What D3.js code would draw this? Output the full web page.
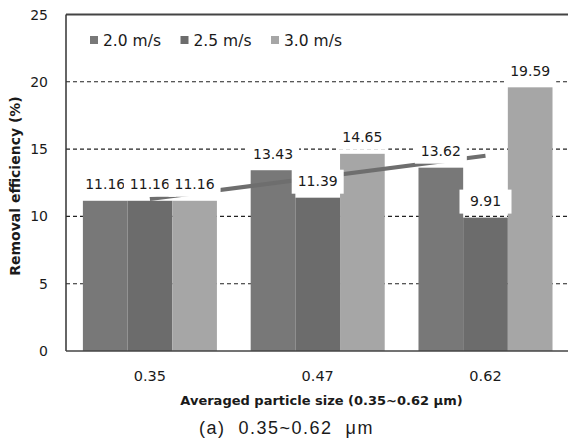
<!DOCTYPE html>
<html lang="en">
<head>
<meta charset="UTF-8">
<script src="https://d3js.org/d3.v7.min.js"></script>
<style>
    body { margin: 0; background: #fff; }
    text { font-family: "DejaVu Sans", sans-serif; fill: #1a1a1a; }
</style>
</head>
<body>
<div id="chart"></div>
<script>
    // data
    const sizes = ['0.35', '0.47', '0.62']
    const speeds = ['2.0 m/s', '2.5 m/s', '3.0 m/s']
    const eff20 = [11.16, 13.43, 13.62]
    const eff25 = [11.16, 11.39, 9.91]
    const eff30 = [11.16, 14.65, 19.59]
    const yTicks = [0, 5, 10, 15, 20, 25]
    const colors = ['#787878', '#6c6c6c', '#a6a6a6']

    const W = 568, H = 447
    const pLeft = 66, pRight = 569.4, pTop = 14.5, pBottom = 351

    const svg = d3.select('#chart').append('svg')
        .attr('width', W).attr('height', H)

    const x0 = d3.scaleBand().domain(sizes).range([pLeft, pRight]).padding(0)
    const x1 = d3.scaleBand().domain(speeds).range([0, x0.bandwidth()])
        .paddingInner(0).paddingOuter(0.378)
    const y = d3.scaleLinear().domain([0, 25]).range([pBottom, pTop])

    const series = [eff20, eff25, eff30]
    const rows = []
    sizes.forEach((s, i) => {
        speeds.forEach((sp, j) => rows.push({size: s, speed: sp, j: j, v: series[j][i]}))
    })

    // dashed gridlines
    svg.append('g').selectAll('line')
        .data(yTicks.filter(t => t > 0 && t < 25))
        .enter().append('line')
        .attr('x1', pLeft).attr('x2', W)
        .attr('y1', d => y(d)).attr('y2', d => y(d))
        .attr('stroke', '#222').attr('stroke-width', 1.1)
        .attr('stroke-dasharray', '4,3')

    // bars
    svg.append('g').selectAll('rect')
        .data(rows)
        .enter().append('rect')
        .attr('x', d => x0(d.size) + x1(d.speed))
        .attr('y', d => y(d.v))
        .attr('width', x1.bandwidth())
        .attr('height', d => y(0) - y(d.v))
        .attr('fill', d => colors[d.j])

    // linear trend of the category means
    const means = sizes.map((s, i) => d3.mean(series, ser => ser[i]))
    const xs = [1, 2, 3]
    const mx = d3.mean(xs), my = d3.mean(means)
    const slope = d3.sum(xs, (v, i) => (v - mx) * (means[i] - my)) / d3.sum(xs, v => (v - mx) * (v - mx))
    const icpt = my - slope * mx
    const cx = s => x0(s) + x0.bandwidth() / 2
    svg.append('line')
        .attr('x1', cx(sizes[0])).attr('y1', y(icpt + slope * 1))
        .attr('x2', cx(sizes[2])).attr('y2', y(icpt + slope * 3))
        .attr('stroke', '#6e6e6e').attr('stroke-width', 4)

    // axis lines
    svg.append('line').attr('x1', pLeft).attr('x2', W).attr('y1', pTop).attr('y2', pTop)
        .attr('stroke', '#444').attr('stroke-width', 2.2)
    svg.append('line').attr('x1', pLeft).attr('x2', pLeft).attr('y1', pTop).attr('y2', pBottom)
        .attr('stroke', '#333').attr('stroke-width', 1.5)
    svg.append('line').attr('x1', pLeft).attr('x2', W).attr('y1', pBottom).attr('y2', pBottom)
        .attr('stroke', '#444').attr('stroke-width', 1.5)

    // y tick labels
    svg.append('g').selectAll('text')
        .data(yTicks).enter().append('text')
        .attr('x', 48).attr('y', d => y(d) + 5)
        .attr('text-anchor', 'end')
        .style('font-size', '14px')
        .text(d => d)

    // x tick labels
    svg.append('g').selectAll('text')
        .data(sizes).enter().append('text')
        .attr('x', d => cx(d)).attr('y', 381)
        .attr('text-anchor', 'middle')
        .style('font-size', '14.5px')
        .text(d => d)

    // data labels with white boxes
    const lab = svg.append('g').selectAll('g')
        .data(rows).enter().append('g')
        .attr('transform', d => 'translate(' + (x0(d.size) + x1(d.speed) + x1.bandwidth() / 2) + ',' + y(d.v) + ')')
    lab.append('rect')
        .attr('x', -26).attr('y', -28).attr('width', 52).attr('height', 24)
        .attr('fill', '#fff')
    lab.append('text')
        .attr('y', -11.5).attr('text-anchor', 'middle')
        .style('font-size', '14px')
        .text(d => d.v.toFixed(2))

    // legend
    const leg = svg.append('g').selectAll('g')
        .data(speeds).enter().append('g')
        .attr('transform', (d, i) => 'translate(' + (90 + i * 90.5) + ',36)')
    leg.append('rect').attr('width', 8).attr('height', 8).attr('fill', (d, i) => colors[i])
    leg.append('text').attr('x', 13).attr('y', 9.5)
        .style('font-size', '15.5px').text(d => d)

    // axis titles
    svg.append('text')
        .attr('x', 321.5).attr('y', 405)
        .attr('text-anchor', 'middle')
        .style('font-size', '13px').style('font-weight', 'bold')
        .text('Averaged particle size (0.35~0.62 μm)')
    svg.append('text')
        .attr('transform', 'translate(20,186) rotate(-90)')
        .attr('text-anchor', 'middle')
        .style('font-size', '14px').style('font-weight', 'bold')
        .text('Removal efficiency (%)')

    // caption
    svg.append('text')
        .attr('x', 286.5).attr('y', 434)
        .attr('text-anchor', 'middle')
        .style('font-family', '"Liberation Sans", sans-serif')
        .style('font-size', '18px').style('letter-spacing', '1.5px')
        .style('white-space', 'pre')
        .text('(a)  0.35~0.62  μm')
</script>
</body>
</html>
